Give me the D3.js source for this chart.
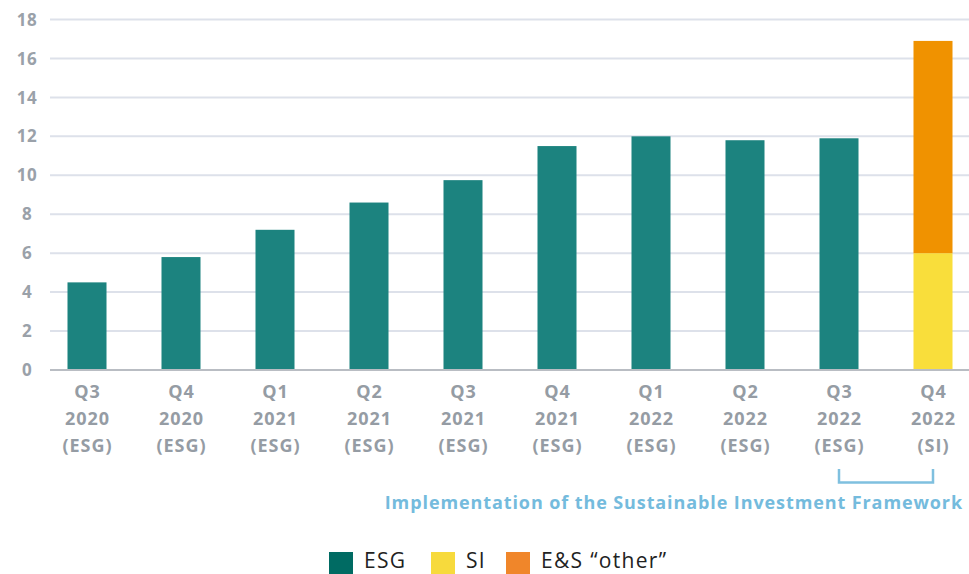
<!DOCTYPE html>
<html>
<head>
<meta charset="utf-8">
<script src="https://cdn.jsdelivr.net/npm/d3@7"></script>
<style>
  body { margin: 0; background: #fff; }
  svg { display: block; }
</style>
</head>
<body>
<div id="chart"></div>
<script>
var w = 969;
var h = 574;

// data
var quarters = ["Q3", "Q4", "Q1", "Q2", "Q3", "Q4", "Q1", "Q2", "Q3", "Q4"];
var years = ["2020", "2020", "2021", "2021", "2021", "2021", "2022", "2022", "2022", "2022"];
var kinds = ["(ESG)", "(ESG)", "(ESG)", "(ESG)", "(ESG)", "(ESG)", "(ESG)", "(ESG)", "(ESG)", "(SI)"];
var esg = [4.5, 5.8, 7.2, 8.6, 9.75, 11.5, 12.0, 11.8, 11.9, 0];
var si = [0, 0, 0, 0, 0, 0, 0, 0, 0, 6.0];
var other = [0, 0, 0, 0, 0, 0, 0, 0, 0, 10.9];
var yTicks = [0, 2, 4, 6, 8, 10, 12, 14, 16, 18];
var legendNames = ["ESG", "SI", "E&S \u201cother\u201d"];

var barColors = { esg: "#1c837f", si: "#f9de3b", other: "#f09200" };
var legendColors = ["#006b63", "#f7da3c", "#f0862a"];

var svg = d3.select("#chart")
            .append("svg")
            .attr("width", w)
            .attr("height", h);

var y = d3.scaleLinear().domain([0, 18]).range([370, 19.5]);
var x = d3.scaleBand()
          .domain(d3.range(quarters.length))
          .range([40, 980])
          .paddingInner(0.585)
          .paddingOuter(0.2925);

// gridlines
svg.selectAll("line.grid")
   .data(yTicks.slice(1))
   .enter()
   .append("line")
   .attr("class", "grid")
   .attr("x1", 50)
   .attr("x2", w)
   .attr("y1", function(d){ return y(d); })
   .attr("y2", function(d){ return y(d); })
   .style("stroke", "#dde1ea")
   .style("stroke-width", 2);

// y labels
svg.selectAll("text.ylab")
   .data(yTicks)
   .enter()
   .append("text")
   .attr("class", "ylab")
   .attr("x", 27)
   .attr("y", function(d){ return y(d); })
   .attr("dy", "0.36em")
   .attr("text-anchor", "middle")
   .style("font-family", "'Open Sans', sans-serif")
   .style("font-weight", 700)
   .style("font-size", "17px")
   .style("letter-spacing", "0.5px")
   .style("fill", "#9aa1a9")
   .text(function(d){ return d; });

// stacked bars
var stack = d3.stack().keys(["esg", "si", "other"]);
var rows = quarters.map(function(q, i){
  return { i: i, esg: esg[i], si: si[i], other: other[i] };
});
var layers = stack(rows);

svg.selectAll("g.layer")
   .data(layers)
   .enter()
   .append("g")
   .attr("class", "layer")
   .style("fill", function(d){ return barColors[d.key]; })
   .selectAll("rect")
   .data(function(d){ return d.filter(function(s){ return s[1] > s[0]; }); })
   .enter()
   .append("rect")
   .attr("x", function(d){ return x(d.data.i); })
   .attr("width", x.bandwidth())
   .attr("y", function(d){ return y(d[1]); })
   .attr("height", function(d){ return y(d[0]) - y(d[1]); });

// baseline
svg.append("line")
   .attr("x1", 50)
   .attr("x2", w)
   .attr("y1", y(0))
   .attr("y2", y(0))
   .style("stroke", "#b9bdc3")
   .style("stroke-width", 2);

// x labels, three lines each
var xl = svg.selectAll("text.xlab")
   .data(quarters)
   .enter()
   .append("text")
   .attr("class", "xlab")
   .attr("text-anchor", "middle")
   .style("font-family", "'Open Sans', sans-serif")
   .style("font-weight", 700)
   .style("font-size", "18px")
   .style("letter-spacing", "1px")
   .style("fill", "#959ca4");

var lines = [quarters, years, kinds];
lines.forEach(function(arr, k){
  xl.append("tspan")
    .attr("x", function(d, i){ return x(i) + x.bandwidth() / 2 + 0.5; })
    .attr("y", 398 + k * 27)
    .text(function(d, i){ return arr[i]; });
});

// bracket under the last two bars
var bx1 = x(8) + x.bandwidth() / 2;
var bx2 = x(9) + x.bandwidth() / 2;
svg.append("path")
   .attr("d", "M" + bx1 + ",469V482.5H" + bx2 + "V469")
   .style("fill", "none")
   .style("stroke", "#7fc0df")
   .style("stroke-width", 2.5);

svg.append("text")
   .attr("x", 963)
   .attr("y", 509)
   .attr("text-anchor", "end")
   .style("font-family", "'Open Sans', sans-serif")
   .style("font-weight", 700)
   .style("font-size", "18px")
   .style("letter-spacing", "0.9px")
   .style("fill", "#74bbdd")
   .text("Implementation of the Sustainable Investment Framework");

// legend
var legendX = [329, 431, 506];
var lg = svg.selectAll("g.legend")
   .data(legendNames)
   .enter()
   .append("g")
   .attr("class", "legend")
   .attr("transform", function(d, i){ return "translate(" + legendX[i] + ",552)"; });

lg.append("rect")
  .attr("width", 24)
  .attr("height", 24)
  .style("fill", function(d, i){ return legendColors[i]; });

lg.append("text")
  .attr("x", 35)
  .attr("y", 16)
  .style("font-family", "'Open Sans', sans-serif")
  .style("font-weight", 400)
  .style("font-size", "21px")
  .style("letter-spacing", "1.3px")
  .style("fill", "#222")
  .text(function(d){ return d; });
</script>
</body>
</html>
